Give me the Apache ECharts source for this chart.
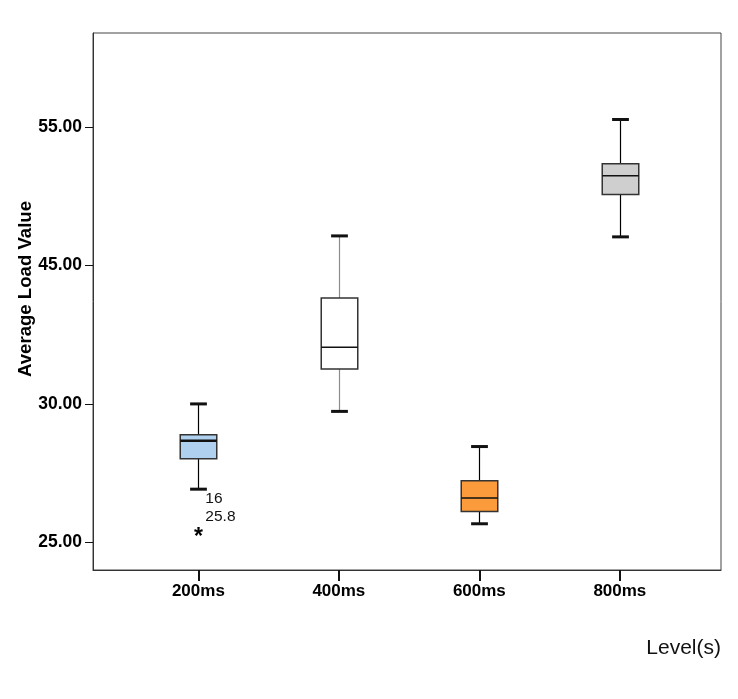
<!DOCTYPE html>
<html><head><meta charset="utf-8">
<script src="https://cdn.jsdelivr.net/npm/echarts@6/dist/echarts.min.js"></script>
<style>html,body{margin:0;padding:0;background:#fff}#c{width:738px;height:699px}</style>
</head><body><div id="c"></div>
<script>
// ---- data ----
const categories = ['200ms', '400ms', '600ms', '800ms'];
const lowWhisker   = [26.92, 29.73, 25.67, 47.07];
const q1Values     = [28.02, 33.79, 26.11, 50.13];
const medianValues = [28.67, 36.15, 26.60, 51.48];
const q3Values     = [28.89, 41.49, 27.22, 52.35];
const highWhisker  = [30.00, 47.14, 28.46, 55.55];
const outlierCategory = [0];
const outlierValues = [25.33];
const outlierCase = ['16'];
const outlierLabel = ['25.8'];
const yTickValues = [25, 30, 45, 55];
const yTickLabels = ['25.00', '30.00', '45.00', '55.00'];
const xTitle = 'Level(s)';
const yTitle = 'Average Load Value';

// ---- styles ----
const boxFill = ['#afd0ee', '#ffffff', '#fb9b3c', '#cfcfcf'];
const whiskerColor = ['#000', '#8c8c8c', '#000', '#000'];
const FONT = '"Liberation Sans", Arial, sans-serif';

// The original axis spaces its tick labels evenly: map values piecewise onto tick positions.
function yPos(v) {
  const t = yTickValues;
  let i;
  if (v <= t[0]) i = 0;
  else if (v >= t[t.length - 1]) i = t.length - 2;
  else { i = 0; while (v > t[i + 1]) i++; }
  return i + (v - t[i]) / (t[i + 1] - t[i]);
}
const tickPos = yTickValues.map(yPos);

const boxData = categories.map((c, k) => [
  k + 1, yPos(lowWhisker[k]), yPos(q1Values[k]), yPos(medianValues[k]), yPos(q3Values[k]), yPos(highWhisker[k])
]);
const outData = outlierValues.map((v, k) => [outlierCategory[k] + 1, yPos(v), k]);

function renderBox(params, api) {
  const k = params.dataIndex;
  const x = api.value(0);
  const pLo = api.coord([x, api.value(1)]);
  const pQ1 = api.coord([x, api.value(2)]);
  const pMed = api.coord([x, api.value(3)]);
  const pQ3 = api.coord([x, api.value(4)]);
  const pHi = api.coord([x, api.value(5)]);
  const cx = Math.round(pMed[0]) + 0.5;
  const half = api.size([1, 0])[0] * 0.13;
  const capHalf = half * 0.46;
  const wc = whiskerColor[k];
  const ln = (x1, y1, x2, y2, color, w) => ({
    type: 'line', shape: { x1, y1, x2, y2 }, style: { stroke: color, lineWidth: w }
  });
  return {
    type: 'group',
    children: [
      ln(cx, pHi[1], cx, pQ3[1], wc, 1.2),
      ln(cx, pQ1[1], cx, pLo[1], wc, 1.2),
      ln(cx - capHalf, pHi[1], cx + capHalf, pHi[1], '#111', 3),
      ln(cx - capHalf, pLo[1], cx + capHalf, pLo[1], '#111', 3),
      {
        type: 'rect',
        shape: { x: cx - half, y: pQ3[1], width: 2 * half, height: pQ1[1] - pQ3[1] },
        style: { fill: boxFill[k], stroke: '#333', lineWidth: 1.5 }
      },
      ln(cx - half, pMed[1], cx + half, pMed[1], '#111', k === 0 ? 2.5 : 1.5)
    ]
  };
}

function renderOutlier(params, api) {
  const k = api.value(2);
  const p = api.coord([api.value(0), api.value(1)]);
  return {
    type: 'group',
    children: [
      { type: 'text', x: p[0], y: p[1] + 4,
        style: { text: '*', font: 'bold 23px ' + FONT, fill: '#000', align: 'center', verticalAlign: 'middle' } },
      { type: 'text', x: p[0] + 7, y: p[1] - 34,
        style: { text: outlierCase[k], font: '15.5px ' + FONT, fill: '#111', align: 'left', verticalAlign: 'middle' } },
      { type: 'text', x: p[0] + 7, y: p[1] - 16,
        style: { text: outlierLabel[k], font: '15.5px ' + FONT, fill: '#111', align: 'left', verticalAlign: 'middle' } }
    ]
  };
}

const chart = echarts.init(document.getElementById('c'), null, { renderer: 'canvas' });
chart.setOption({
  animation: false,
  backgroundColor: '#fff',
  grid: { left: 93, right: 17, top: 33, bottom: 129, show: true, borderColor: '#444', borderWidth: 1 },
  xAxis: {
    type: 'value', min: 0.25, max: 4.72,
    name: xTitle, nameLocation: 'end', nameGap: 0, nameMoveOverlap: false,
    nameTextStyle: { fontFamily: FONT, fontSize: 21, color: '#111', align: 'right', verticalAlign: 'top', padding: [68, 0, 0, 0] },
    axisLine: { show: true, onZero: false, lineStyle: { color: '#333', width: 1 } },
    axisTick: { show: true, customValues: [1, 2, 3, 4], length: 11, lineStyle: { color: '#111', width: 2 } },
    axisLabel: {
      customValues: [1, 2, 3, 4], margin: 13,
      formatter: v => categories[Math.round(v) - 1] || '',
      fontFamily: FONT, fontWeight: 'bold', fontSize: 17, color: '#000'
    },
    splitLine: { show: false }
  },
  yAxis: {
    type: 'value', min: yPos(24), max: yPos(61.8),
    name: yTitle, nameLocation: 'middle', nameGap: 58, nameMoveOverlap: false,
    nameTextStyle: { fontFamily: FONT, fontWeight: 'bold', fontSize: 18.6, color: '#000', padding: [0, 0, 0, 25] },
    axisLine: { show: true, onZero: false, lineStyle: { color: '#333', width: 1 } },
    axisTick: { show: true, customValues: tickPos, length: 8, lineStyle: { color: '#111', width: 1 } },
    axisLabel: {
      customValues: tickPos, margin: 11,
      formatter: v => { const i = tickPos.findIndex(t => Math.abs(t - v) < 1e-6); return i >= 0 ? yTickLabels[i] : ''; },
      fontFamily: FONT, fontWeight: 'bold', fontSize: 17.5, color: '#000'
    },
    splitLine: { show: false }
  },
  series: [
    { type: 'custom', renderItem: renderBox, data: boxData, encode: { x: 0, y: [1, 2, 3, 4, 5] }, clip: false },
    { type: 'custom', renderItem: renderOutlier, data: outData, encode: { x: 0, y: 1 }, clip: false }
  ]
});
</script>
</body></html>
